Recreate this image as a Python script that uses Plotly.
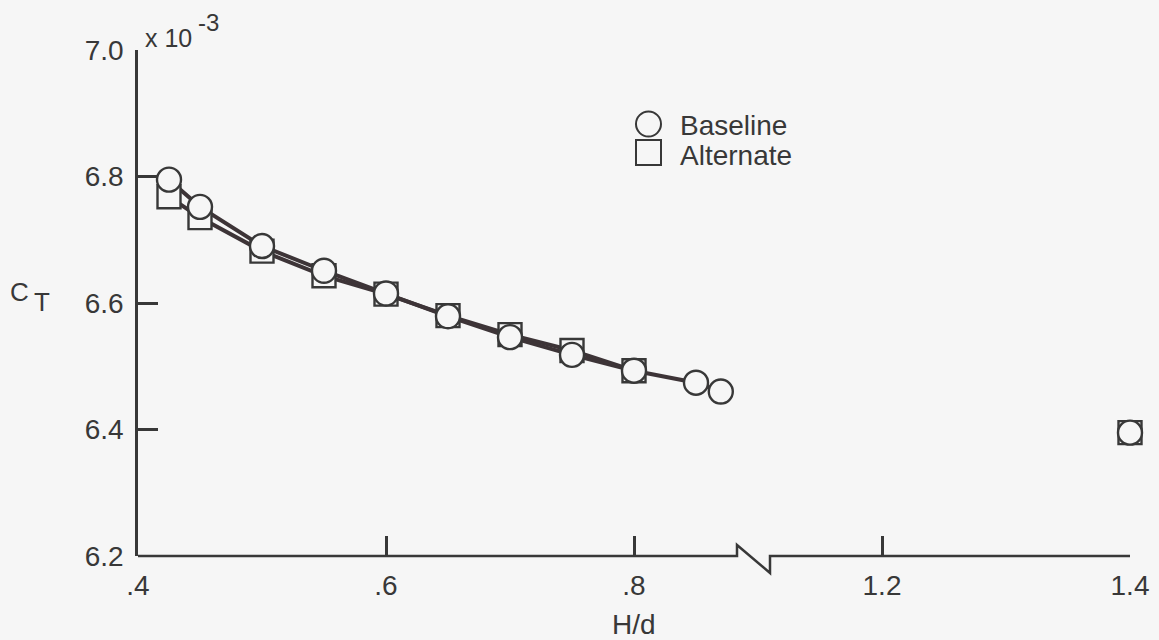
import plotly.graph_objects as go

# ---------------- data ----------------
series_names = ["Baseline", "Alternate"]

baseline_hd = [0.425, 0.45, 0.50, 0.55, 0.60, 0.65, 0.70, 0.75, 0.80, 0.85, 0.87, 1.40]
baseline_ct = [6.795, 6.752, 6.690, 6.651, 6.615, 6.579, 6.546, 6.518, 6.493, 6.474, 6.460, 6.395]

alternate_hd = [0.425, 0.45, 0.50, 0.55, 0.60, 0.65, 0.70, 0.75, 0.80, 1.40]
alternate_ct = [6.768, 6.735, 6.682, 6.643, 6.614, 6.580, 6.550, 6.525, 6.493, 6.395]

x_tick_values = [0.4, 0.6, 0.8, 1.2, 1.4]
x_tick_labels = [".4", ".6", ".8", "1.2", "1.4"]
y_tick_values = [6.2, 6.4, 6.6, 6.8, 7.0]
y_tick_labels = ["6.2", "6.4", "6.6", "6.8", "7.0"]

# ---------------- broken-axis transform ----------------
BREAK_LO = 1.0   # values above this are shifted left by GAP
GAP = 0.2


def to_axis(v):
    return v if v <= BREAK_LO else v - GAP


# ---------------- styling ----------------
BG = "#f6f6f6"
INK = "#383838"
LINE_COLOR = "#3d3437"
FONT = "Liberation Sans, Arial, Helvetica, sans-serif"
FS = 28
W, H = 1159, 640
L, R, T, B = 138, 1130, 50, 556


def px_x(p):
    return (p - L) / (R - L)


def px_y(p):
    return (B - p) / (B - T)


fig = go.Figure()

# connecting lines (only the points left of the axis break)
for hd, ct in [(alternate_hd, alternate_ct), (baseline_hd, baseline_ct)]:
    pts = [(to_axis(h), c) for h, c in zip(hd, ct) if h <= BREAK_LO]
    fig.add_trace(go.Scatter(
        x=[p[0] for p in pts], y=[p[1] for p in pts], mode="lines",
        line=dict(color=LINE_COLOR, width=4), showlegend=False, hoverinfo="skip"))

# markers
fig.add_trace(go.Scatter(
    x=[to_axis(h) for h in alternate_hd], y=alternate_ct, mode="markers",
    name=series_names[1], cliponaxis=False,
    marker=dict(symbol="square", size=23, color=BG, line=dict(color=INK, width=2.4)),
    showlegend=False))
fig.add_trace(go.Scatter(
    x=[to_axis(h) for h in baseline_hd], y=baseline_ct, mode="markers",
    name=series_names[0], cliponaxis=False,
    marker=dict(symbol="circle", size=24, color=BG, line=dict(color=INK, width=2.4)),
    showlegend=False))

# x axis line with break zigzag
zx0 = 0.4 + (737 - L) / (R - L) * 0.8
zx1 = 0.4 + (770 - L) / (R - L) * 0.8
xa0, xa1 = to_axis(x_tick_values[0]), to_axis(x_tick_values[-1])
path = (f"M {xa0},0 L {zx0},0 L {zx0},{px_y(545)} L {zx1},{px_y(573)} "
        f"L {zx1},0 L {xa1},0")
shapes = [dict(type="path", xref="x", yref="paper", path=path,
               line=dict(color=INK, width=2.5), layer="above")]

# legend (drawn manually for large symbols)
shapes.append(dict(type="circle", xref="paper", yref="paper",
                   x0=px_x(636), x1=px_x(661), y0=px_y(136.5), y1=px_y(111.5),
                   line=dict(color=INK, width=2), fillcolor=BG))
shapes.append(dict(type="rect", xref="paper", yref="paper",
                   x0=px_x(636), x1=px_x(661), y0=px_y(165), y1=px_y(140),
                   line=dict(color=INK, width=2), fillcolor=BG))


def ann(text, x, y, size, xanchor="left"):
    return dict(text=text, x=x, y=y, xref="paper", yref="paper",
                xanchor=xanchor, yanchor="middle", showarrow=False,
                font=dict(size=size, color=INK, family=FONT))


annotations = [
    ann(series_names[0], px_x(678), px_y(125), FS),
    ann(series_names[1], px_x(678), px_y(155), FS),
    ann("x 10", px_x(143), px_y(38), 25),
    ann("-3", px_x(196), px_y(22), 24),
    ann("C", px_x(8), px_y(292), 26),
    ann("T", px_x(32), px_y(302), 26),
    ann("H/d", 0.5, px_y(625), FS, xanchor="center"),
]

fig.update_layout(
    width=W, height=H,
    margin=dict(l=L, r=W - R, t=T, b=H - B, autoexpand=False),
    paper_bgcolor=BG, plot_bgcolor=BG,
    font=dict(family=FONT, size=FS, color=INK),
    showlegend=False,
    shapes=shapes, annotations=annotations,
    xaxis=dict(range=[to_axis(0.4), to_axis(1.4)],
               tickvals=[to_axis(v) for v in x_tick_values], ticktext=x_tick_labels,
               ticks="inside", ticklen=20, tickwidth=2.5, tickcolor=INK,
               showline=False, showgrid=False, zeroline=False,
               tickfont=dict(size=FS), ticklabelstandoff=10),
    yaxis=dict(range=[6.2, 7.0], tickvals=y_tick_values, ticktext=y_tick_labels,
               ticks="inside", ticklen=20, tickwidth=2.5, tickcolor=INK,
               showline=True, linecolor=INK, linewidth=2.5,
               showgrid=False, zeroline=False,
               tickfont=dict(size=FS), ticklabelstandoff=6),
)

fig.write_html("out.html")
